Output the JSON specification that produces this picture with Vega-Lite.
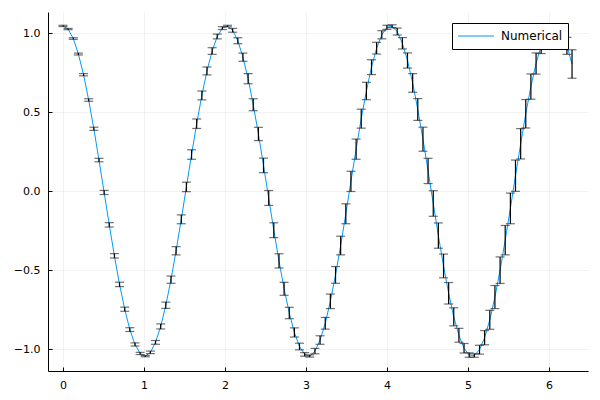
{
  "$schema": "https://vega.github.io/schema/vega-lite/v6.json",
  "width": 540,
  "height": 359,
  "autosize": "none",
  "padding": {"left": 48, "top": 12, "right": 12, "bottom": 29},
  "background": "white",
  "config": {
    "view": {"stroke": null},
    "font": "DejaVu Sans",
    "axis": {
      "grid": true,
      "gridColor": "#000000",
      "gridOpacity": 0.1,
      "gridWidth": 0.5,
      "domainColor": "#000000",
      "domainWidth": 1,
      "tickColor": "#000000",
      "tickSize": -4,
      "labelFontSize": 11,
      "labelColor": "#000000",
      "labelPadding": 12,
      "title": null
    }
  },
  "data": {"values": [
    {"t":0.000,"y":1.045,"err":0.004},{"t":0.063,"y":1.025,"err":0.004},{"t":0.127,"y":0.965,"err":0.005},{"t":0.190,"y":0.867,"err":0.006},{"t":0.254,"y":0.736,"err":0.007},
    {"t":0.317,"y":0.576,"err":0.008},{"t":0.381,"y":0.394,"err":0.010},{"t":0.444,"y":0.196,"err":0.011},{"t":0.508,"y":-0.009,"err":0.013},{"t":0.571,"y":-0.214,"err":0.014},
    {"t":0.635,"y":-0.410,"err":0.014},{"t":0.698,"y":-0.591,"err":0.014},{"t":0.762,"y":-0.748,"err":0.013},{"t":0.825,"y":-0.877,"err":0.012},{"t":0.889,"y":-0.971,"err":0.010},
    {"t":0.952,"y":-1.028,"err":0.007},{"t":1.015,"y":-1.045,"err":0.004},{"t":1.079,"y":-1.021,"err":0.008},{"t":1.142,"y":-0.958,"err":0.012},{"t":1.206,"y":-0.857,"err":0.016},
    {"t":1.269,"y":-0.723,"err":0.020},{"t":1.333,"y":-0.561,"err":0.023},{"t":1.396,"y":-0.378,"err":0.026},{"t":1.460,"y":-0.179,"err":0.028},{"t":1.523,"y":0.026,"err":0.030},
    {"t":1.587,"y":0.231,"err":0.030},{"t":1.650,"y":0.426,"err":0.030},{"t":1.714,"y":0.605,"err":0.028},{"t":1.777,"y":0.760,"err":0.025},{"t":1.841,"y":0.886,"err":0.021},
    {"t":1.904,"y":0.978,"err":0.015},{"t":1.967,"y":1.031,"err":0.009},{"t":2.031,"y":1.044,"err":0.005},{"t":2.094,"y":1.017,"err":0.012},{"t":2.158,"y":0.951,"err":0.019},
    {"t":2.221,"y":0.847,"err":0.026},{"t":2.285,"y":0.711,"err":0.032},{"t":2.348,"y":0.546,"err":0.038},{"t":2.412,"y":0.361,"err":0.042},{"t":2.475,"y":0.162,"err":0.046},
    {"t":2.539,"y":-0.044,"err":0.047},{"t":2.602,"y":-0.248,"err":0.047},{"t":2.666,"y":-0.442,"err":0.045},{"t":2.729,"y":-0.619,"err":0.041},{"t":2.793,"y":-0.772,"err":0.036},
    {"t":2.856,"y":-0.895,"err":0.029},{"t":2.919,"y":-0.984,"err":0.021},{"t":2.983,"y":-1.034,"err":0.011},{"t":3.046,"y":-1.044,"err":0.007},{"t":3.110,"y":-1.013,"err":0.017},
    {"t":3.173,"y":-0.943,"err":0.027},{"t":3.237,"y":-0.837,"err":0.037},{"t":3.300,"y":-0.698,"err":0.046},{"t":3.364,"y":-0.531,"err":0.053},{"t":3.427,"y":-0.345,"err":0.059},
    {"t":3.491,"y":-0.144,"err":0.063},{"t":3.554,"y":0.061,"err":0.064},{"t":3.618,"y":0.265,"err":0.064},{"t":3.681,"y":0.458,"err":0.060},{"t":3.745,"y":0.633,"err":0.055},
    {"t":3.808,"y":0.784,"err":0.047},{"t":3.871,"y":0.904,"err":0.037},{"t":3.935,"y":0.989,"err":0.026},{"t":3.998,"y":1.036,"err":0.013},{"t":4.062,"y":1.043,"err":0.009},
    {"t":4.125,"y":1.009,"err":0.022},{"t":4.189,"y":0.935,"err":0.036},{"t":4.252,"y":0.826,"err":0.048},{"t":4.316,"y":0.684,"err":0.059},{"t":4.379,"y":0.516,"err":0.069},
    {"t":4.443,"y":0.328,"err":0.076},{"t":4.506,"y":0.127,"err":0.080},{"t":4.570,"y":-0.079,"err":0.081},{"t":4.633,"y":-0.282,"err":0.080},{"t":4.697,"y":-0.474,"err":0.075},
    {"t":4.760,"y":-0.647,"err":0.068},{"t":4.823,"y":-0.796,"err":0.057},{"t":4.887,"y":-0.913,"err":0.044},{"t":4.950,"y":-0.995,"err":0.030},{"t":5.014,"y":-1.038,"err":0.014},
    {"t":5.077,"y":-1.041,"err":0.011},{"t":5.141,"y":-1.004,"err":0.028},{"t":5.204,"y":-0.928,"err":0.045},{"t":5.268,"y":-0.815,"err":0.060},{"t":5.331,"y":-0.671,"err":0.073},
    {"t":5.395,"y":-0.501,"err":0.084},{"t":5.458,"y":-0.311,"err":0.093},{"t":5.522,"y":-0.110,"err":0.097},{"t":5.585,"y":0.097,"err":0.099},{"t":5.649,"y":0.299,"err":0.096},
    {"t":5.712,"y":0.489,"err":0.090},{"t":5.775,"y":0.661,"err":0.080},{"t":5.839,"y":0.807,"err":0.067},{"t":5.902,"y":0.921,"err":0.051},{"t":5.966,"y":1.000,"err":0.033},
    {"t":6.029,"y":1.040,"err":0.014},{"t":6.093,"y":1.040,"err":0.014},{"t":6.156,"y":0.999,"err":0.035},{"t":6.220,"y":0.919,"err":0.054},{"t":6.283,"y":0.804,"err":0.090}
  ]},
  "encoding": {
    "x": {
      "field": "t", "type": "quantitative", "title": null,
      "scale": {"domain": [-0.185, 6.48], "nice": false, "zero": false},
      "axis": {"values": [0, 1, 2, 3, 4, 5, 6], "format": "d", "labelPadding": 12}
    }
  },
  "layer": [
    {
      "mark": {"type": "line", "strokeWidth": 1, "interpolate": "linear"},
      "encoding": {
        "y": {
          "field": "y", "type": "quantitative", "title": null,
          "scale": {"domain": [-1.139, 1.133], "nice": false, "zero": false},
          "axis": {"values": [-1, -0.5, 0, 0.5, 1], "format": ".1f", "labelPadding": 12}
        },
        "color": {
          "datum": "Numerical",
          "type": "nominal",
          "scale": {"range": ["#009AFA"]},
          "legend": {
            "title": null,
            "orient": "none",
            "legendX": 404,
            "legendY": 11,
            "symbolType": "stroke",
            "symbolSize": 1296,
            "clipHeight": 16,
            "labelFontSize": 12,
            "labelColor": "#000000",
            "labelOffset": 6,
            "strokeColor": "#000000",
            "fillColor": "#ffffff",
            "padding": 5,
            "encode": {
              "symbols": {
                "update": {
                  "stroke": {"value": "#009AFA"},
                  "strokeWidth": {"value": 1.2},
                  "opacity": {"value": 1},
                  "strokeOpacity": {"value": 1}
                }
              }
            }
          }
        }
      }
    },
    {
      "mark": {"type": "errorbar", "ticks": {"size": 9, "color": "#333333"}, "color": "#000000", "thickness": 1.2},
      "encoding": {
        "y": {"field": "y", "type": "quantitative", "title": null},
        "yError": {"field": "err"}
      }
    }
  ]
}
